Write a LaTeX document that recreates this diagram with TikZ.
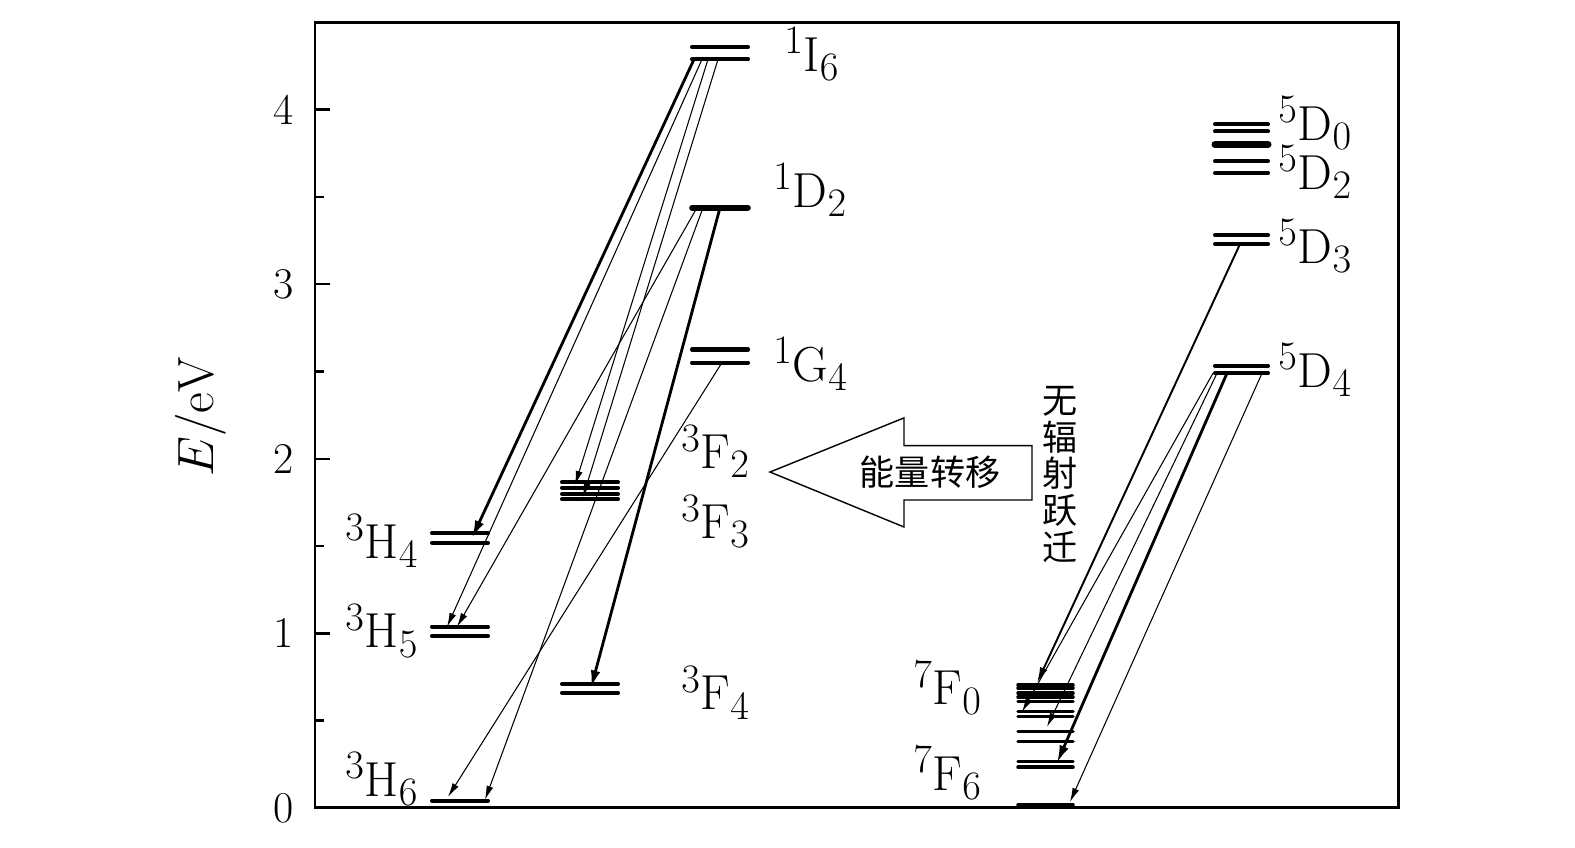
\RequirePackage{fix-cm}
\documentclass[tikz,border=0pt]{standalone}
\usepackage{fontspec}
\newfontfamily\cjk{Noto Sans CJK SC}
\DeclareMathSizes{28}{28}{23}{16}
\usetikzlibrary{arrows.meta}
\tikzset{
  lvl/.style = {line width=2.3pt, line cap=round},% niveau d'energie
  lvl_b/.style = {line width=3.2pt, line cap=round},% niveau double, confondu
  tr_f/.style = {line width=0.6pt, -{Latex[length=8pt,width=4pt]}},% transition fine
  tr_m/.style = {line width=1.1pt, -{Latex[length=9pt,width=4.5pt]}},% transition moyenne
  tr_e/.style = {line width=1.6pt, -{Latex[length=10pt,width=5.5pt]}},% transition epaisse
  lab/.style = {inner sep=0pt, anchor=base west,
    font=\fontsize{28}{34}\selectfont},% nom du niveau
  tick_lab/.style = {inner sep=0pt, font=\fontsize{25}{30}\selectfont},
  cjk_lab/.style = {inner sep=0pt, align=center,
    font=\cjk\fontsize{20}{21}\selectfont}
}
\begin{document}
\begin{tikzpicture}[x=0.02cm, y=3.492cm]
\useasboundingbox (0,-0.229) rectangle (1575,4.628);
% cadre et axe
\draw[line width=1.7pt] (315,0) rectangle (1398,4.5);
\foreach \e in {0,...,4} {
  \draw[line width=1.4pt] (315,\e) -- (330,\e);
  \node[tick_lab] (t\e) at (284,\e) {\e};
}
\foreach \e in {0.5,1.5,2.5,3.5}
  \draw[line width=1.4pt] (315,\e) -- (324,\e);
\node[rotate=90, inner sep=0pt, font=\fontsize{29}{34}\selectfont] (ylab)
  at (201,2.24) {$E/\mathrm{eV}$};
% niveaux de gauche
\foreach \e in {1.573,1.519,1.038,0.985,0.042}
  \draw[lvl] (432,\e) -- (488,\e);
\foreach \e in {1.866,1.834,1.798,1.768,0.710,0.659}
  \draw[lvl] (562,\e) -- (618,\e);
\foreach \e in {4.360,4.288,2.626,2.551}
  \draw[lvl] (692,\e) -- (748,\e);
\draw[lvl_b] (692,3.438) -- (748,3.438);
% niveaux de droite
\foreach \e in {3.915,3.875,3.705,3.637,3.281,3.230,2.533,2.490}
  \draw[lvl] (1215,\e) -- (1268,\e);
\draw[line width=4pt, line cap=round] (1215,3.800) -- (1268,3.800);
\foreach \e in {0.704,0.686,0.657,0.634,0.609,0.552,0.523,0.437,0.379,0.265,0.233,0.017}
  \draw[line width=2pt, line cap=round] (1018,\e) -- (1073,\e);
% noms des niveaux
\node[lab] (I6) at (784,4.219) {$^{1}\mathrm{I}_{6}$};
\node[lab] (D2) at (773,3.439) {$^{1}\mathrm{D}_{2}$};
\node[lab] (G4) at (773,2.442) {$^{1}\mathrm{G}_{4}$};
\node[lab] (F2) at (681,1.942) {$^{3}\mathrm{F}_{2}$};
\node[lab] (F3) at (681,1.541) {$^{3}\mathrm{F}_{3}$};
\node[lab] (F4) at (681,0.561) {$^{3}\mathrm{F}_{4}$};
\node[lab] (H4) at (345,1.429) {$^{3}\mathrm{H}_{4}$};
\node[lab] (H5) at (345,0.916) {$^{3}\mathrm{H}_{5}$};
\node[lab] (H6) at (345,0.066) {$^{3}\mathrm{H}_{6}$};
\node[lab] (D0) at (1278,3.823) {$^{5}\mathrm{D}_{0}$};
\node[lab] (D2r) at (1278,3.545) {$^{5}\mathrm{D}_{2}$};
\node[lab] (D3) at (1278,3.121) {$^{5}\mathrm{D}_{3}$};
\node[lab] (D4) at (1278,2.407) {$^{5}\mathrm{D}_{4}$};
\node[lab] (F0) at (913,0.590) {$^{7}\mathrm{F}_{0}$};
\node[lab] (F6) at (913,0.100) {$^{7}\mathrm{F}_{6}$};
% departs et arrivees des transitions
\coordinate (sI6a) at (694,4.288);
\coordinate (sI6b) at (702,4.288);
\coordinate (sI6c) at (708,4.288);
\coordinate (sI6d) at (718,4.288);
\coordinate (sD2a) at (697,3.438);
\coordinate (sD2b) at (703,3.438);
\coordinate (sD2c) at (720,3.438);
\coordinate (sG4) at (722,2.551);
\coordinate (eH4) at (472,1.546);
\coordinate (eH5a) at (447,1.037);
\coordinate (eH5b) at (457,1.037);
\coordinate (eF3a) at (575,1.850);
\coordinate (eF3b) at (583,1.781);
\coordinate (eH6a) at (448,0.063);
\coordinate (eH6b) at (485,0.046);
\coordinate (eF4) at (591,0.687);
\coordinate (sD3) at (1240,3.230);
\coordinate (sD4a) at (1213,2.490);
\coordinate (sD4b) at (1217,2.490);
\coordinate (sD4c) at (1227,2.490);
\coordinate (sD4d) at (1262,2.490);
\coordinate (eF0) at (1037,0.716);
\coordinate (eF2) at (1022,0.550);
\coordinate (eF3) at (1047,0.464);
\coordinate (eF5) at (1057,0.258);
\coordinate (eF6) at (1070,0.034);
% transitions
\draw[tr_e] (sI6a) -- (eH4);
\draw[tr_f] (sI6b) -- (eH5a);
\draw[tr_f] (sI6c) -- (eF3a);
\draw[tr_f] (sI6d) -- (eF3b);
\draw[tr_f] (sD2a) -- (eH5b);
\draw[tr_f] (sD2b) -- (eH6b);
\draw[tr_e] (sD2c) -- (eF4);
\draw[tr_f] (sG4) -- (eH6a);
\draw[tr_m] (sD3) -- (eF0);
\draw[tr_f] (sD4a) -- (eF2);
\draw[tr_f] (sD4b) -- (eF3);
\draw[tr_e] (sD4c) -- (eF5);
\draw[tr_f] (sD4d) -- (eF6);
% transfert d'energie
\draw[line width=0.8pt, line join=miter] (1032,2.075) -- (904,2.075) -- (904,2.234)
  -- (770,1.924) -- (904,1.609) -- (904,1.764) -- (1032,1.764) -- cycle;
\node[cjk_lab] (transfert) at (930,1.924) {能量转移};
\node[cjk_lab] (nonrad) at (1060,1.910) {无\\辐\\射\\跃\\迁};
\end{tikzpicture}
\end{document}
